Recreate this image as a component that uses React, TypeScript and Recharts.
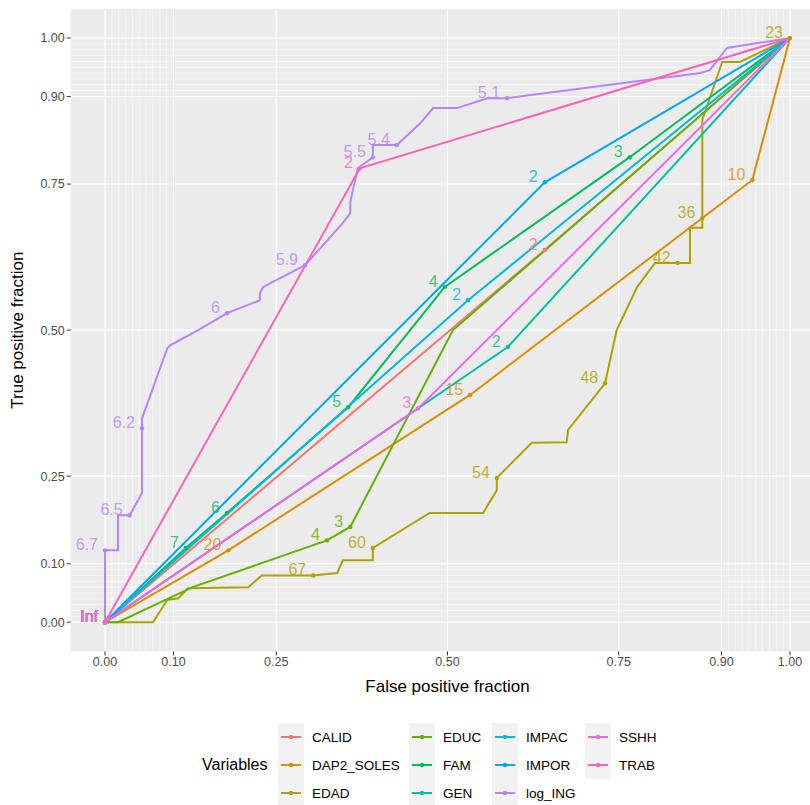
import React from 'react';
import { ScatterChart, Scatter, XAxis, YAxis, CartesianGrid } from 'recharts';

// ROC curves (false positive fraction, true positive fraction, cutoff labels)
const CALID_FPF = [0, 0.642, 1];
const CALID_TPF = [0, 0.637, 1];
const CALID_CUT = ['Inf', '2', ''];

const DAP2_FPF = [0, 0.18, 0.533, 0.945, 1];
const DAP2_TPF = [0, 0.123, 0.389, 0.757, 1];
const DAP2_CUT = ['Inf', '20', '15', '10', ''];

const EDAD_FPF = [0, 0.07, 0.091, 0.107, 0.121, 0.209, 0.229, 0.304, 0.339, 0.347, 0.391, 0.391, 0.474, 0.552, 0.572, 0.572, 0.623, 0.674, 0.676, 0.73, 0.747, 0.777, 0.803, 0.836, 0.854, 0.854, 0.872, 0.872, 0.872, 0.901, 0.927, 1];
const EDAD_TPF = [0, 0, 0.038, 0.041, 0.058, 0.06, 0.08, 0.08, 0.084, 0.106, 0.106, 0.127, 0.187, 0.187, 0.226, 0.247, 0.307, 0.308, 0.329, 0.409, 0.5, 0.574, 0.615, 0.615, 0.615, 0.675, 0.675, 0.692, 0.86, 0.959, 0.959, 1];
const EDAD_CUT = ['Inf', '', '', '', '', '', '', '67', '', '', '', '60', '', '', '', '54', '', '', '', '48', '', '', '', '42', '', '', '', '36', '', '', '', '23'];

const EDUC_FPF = [0, 0.019, 0.128, 0.324, 0.358, 0.508, 1];
const EDUC_TPF = [0, 0, 0.06, 0.14, 0.163, 0.5, 1];
const EDUC_CUT = ['Inf', '', '', '4', '3', '', ''];

const FAM_FPF = [0, 0.118, 0.178, 0.355, 0.496, 0.766, 1];
const FAM_TPF = [0, 0.127, 0.187, 0.368, 0.574, 0.796, 1];
const FAM_CUT = ['Inf', '7', '6', '5', '4', '3', ''];

const GEN_FPF = [0, 0.588, 1];
const GEN_TPF = [0, 0.471, 1];
const GEN_CUT = ['Inf', '2', ''];

const IMPAC_FPF = [0, 0.53, 1];
const IMPAC_TPF = [0, 0.551, 1];
const IMPAC_CUT = ['Inf', '2', ''];

const IMPOR_FPF = [0, 0.642, 1];
const IMPOR_TPF = [0, 0.753, 1];
const IMPOR_CUT = ['Inf', '2', ''];

const LOGING_FPF = [0, 0, 0.019, 0.019, 0.036, 0.054, 0.054, 0.054, 0.091, 0.095, 0.136, 0.178, 0.226, 0.226, 0.231, 0.292, 0.347, 0.358, 0.358, 0.369, 0.391, 0.391, 0.426, 0.46, 0.479, 0.514, 0.558, 0.587, 0.869, 0.883, 0.908, 1];
const LOGING_TPF = [0, 0.123, 0.123, 0.183, 0.183, 0.221, 0.332, 0.349, 0.469, 0.474, 0.5, 0.529, 0.551, 0.563, 0.574, 0.611, 0.683, 0.7, 0.719, 0.777, 0.796, 0.817, 0.817, 0.854, 0.88, 0.88, 0.897, 0.897, 0.94, 0.945, 0.983, 1];
const LOGING_CUT = ['Inf', '6.7', '', '', '6.5', '', '6.2', '', '', '', '', '6', '', '', '', '5.9', '', '', '', '', '5.5', '', '5.4', '', '', '', '', '5.1', '', '', '', ''];

const SSHH_FPF = [0, 0.457, 1];
const SSHH_TPF = [0, 0.366, 1];
const SSHH_CUT = ['Inf', '3', ''];

const TRAB_FPF = [0, 0.372, 1];
const TRAB_TPF = [0, 0.777, 1];
const TRAB_CUT = ['Inf', '2', ''];

const NAMES = ['CALID', 'DAP2_SOLES', 'EDAD', 'EDUC', 'FAM', 'GEN', 'IMPAC', 'IMPOR', 'log_ING', 'SSHH', 'TRAB'];
const COLORS = ['#F8766D', '#DB8E00', '#AEA200', '#64B200', '#00BD5C', '#00C1A7', '#00BADE', '#00A6FF', '#B385FF', '#EF67EB', '#FF63B6'];

const MAJOR = [0, 0.1, 0.25, 0.5, 0.75, 0.9, 1];
const MINOR = [0, 0.01, 0.02, 0.03, 0.04, 0.05, 0.06, 0.07, 0.08, 0.09, 0.1, 0.9, 0.91, 0.92, 0.93, 0.94, 0.95, 0.96, 0.97, 0.98, 0.99, 1];

const RAW = [
  [CALID_FPF, CALID_TPF, CALID_CUT],
  [DAP2_FPF, DAP2_TPF, DAP2_CUT],
  [EDAD_FPF, EDAD_TPF, EDAD_CUT],
  [EDUC_FPF, EDUC_TPF, EDUC_CUT],
  [FAM_FPF, FAM_TPF, FAM_CUT],
  [GEN_FPF, GEN_TPF, GEN_CUT],
  [IMPAC_FPF, IMPAC_TPF, IMPAC_CUT],
  [IMPOR_FPF, IMPOR_TPF, IMPOR_CUT],
  [LOGING_FPF, LOGING_TPF, LOGING_CUT],
  [SSHH_FPF, SSHH_TPF, SSHH_CUT],
  [TRAB_FPF, TRAB_TPF, TRAB_CUT],
] as [number[], number[], string[]][];

const series = RAW.map(([fpf, tpf, cut], i) => ({
  name: NAMES[i],
  color: COLORS[i],
  data: fpf.map((x, j) => ({ x, y: tpf[j], cut: cut[j] })),
}));

const FONT = '"Liberation Sans", Arial, Helvetica, sans-serif';

const NoShape = () => <g />;

export default function App() {
  return (
    <div style={{ position: 'absolute', left: 0, top: 0, width: 810, height: 805, overflow: 'hidden', background: '#fff', fontFamily: FONT }}>
      <ScatterChart width={830} height={805} margin={{ top: 8.8, right: 5.75, bottom: 123.6, left: 0 }}>
        <CartesianGrid fill="#EBEBEB" stroke="#FFFFFF" strokeWidth={0.55} verticalValues={MINOR} horizontalValues={MINOR} />
        <CartesianGrid stroke="#FFFFFF" strokeWidth={1.1} verticalValues={MAJOR} horizontalValues={MAJOR} />
        <XAxis
          type="number"
          dataKey="x"
          domain={[-0.05, 1.05]}
          allowDataOverflow
          ticks={MAJOR}
          interval={0}
          tickFormatter={(v: number) => v.toFixed(2)}
          axisLine={false}
          tickLine={{ stroke: '#333333' }}
          tickSize={4}
          tickMargin={2}
          height={30}
          tick={{ fontSize: 12.5, fill: '#4D4D4D', fontFamily: FONT }}
          label={{
            content: (p: any) => (
              <text x={p.viewBox.x + p.viewBox.width / 2} y={686} textAnchor="middle" dominantBaseline="central" fontSize={17} fill="#000" fontFamily={FONT}>
                False positive fraction
              </text>
            ),
          }}
        />
        <YAxis
          type="number"
          dataKey="y"
          domain={[-0.05, 1.05]}
          allowDataOverflow
          ticks={MAJOR}
          interval={0}
          tickFormatter={(v: number) => v.toFixed(2)}
          axisLine={false}
          tickLine={{ stroke: '#333333' }}
          tickSize={4}
          tickMargin={2}
          width={70.75}
          tick={{ fontSize: 12.5, fill: '#4D4D4D', fontFamily: FONT }}
          label={{
            content: (p: any) => {
              const cy = p.viewBox.y + p.viewBox.height / 2;
              return (
                <text x={18} y={cy} transform={`rotate(-90, 18, ${cy})`} textAnchor="middle" dominantBaseline="central" fontSize={17} fill="#000" fontFamily={FONT}>
                  True positive fraction
                </text>
              );
            },
          }}
        />
        {series.map((s) => (
          <Scatter
            key={`line-${s.name}`}
            name={s.name}
            data={s.data}
            line={{ stroke: s.color, strokeWidth: 2 }}
            lineType="joint"
            shape={NoShape}
            isAnimationActive={false}
          />
        ))}
        {series.map((s) => (
          <Scatter
            key={`pts-${s.name}`}
            data={s.data.filter((d) => d.cut !== '')}
            isAnimationActive={false}
            shape={(p: any) => (
              <g>
                <circle cx={p.cx} cy={p.cy} r={2.2} fill={s.color} />
                <text x={p.cx - 7} y={p.cy} textAnchor="end" fontSize={16} fill={s.color} fillOpacity={0.8} fontFamily={FONT}>
                  {p.payload.cut}
                </text>
              </g>
            )}
          />
        ))}
      </ScatterChart>

      <div style={{ position: 'absolute', left: 202, top: 755, fontSize: 16, lineHeight: '20px', color: '#000' }}>Variables</div>
      {[0, 1, 2, 3].map((col) => (
        <div key={col} style={{ position: 'absolute', left: [278, 409, 492, 585][col], top: 723 }}>
          {series.slice(col * 3, col * 3 + 3).map((s) => (
            <div key={s.name} style={{ display: 'flex', alignItems: 'center', height: 28 }}>
              <svg width={26} height={28} style={{ display: 'block' }}>
                <rect x={0} y={0} width={26} height={28} fill="#F2F2F2" />
                <line x1={3} x2={23} y1={14} y2={14} stroke={s.color} strokeWidth={2} />
                <circle cx={13} cy={14} r={2.2} fill={s.color} />
              </svg>
              <span style={{ marginLeft: 8, fontSize: 13.5, color: '#000', whiteSpace: 'nowrap' }}>{s.name}</span>
            </div>
          ))}
        </div>
      ))}
    </div>
  );
}
